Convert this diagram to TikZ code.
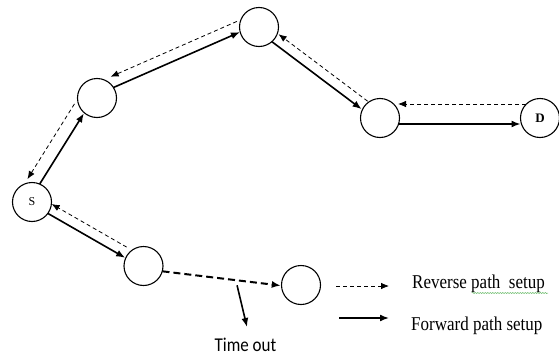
\documentclass[tikz,border=0pt]{standalone}
\usepackage{fontspec}
\setmainfont{Liberation Serif}
\newfontfamily\labelsans{Carlito}
\usetikzlibrary{calc,arrows.meta,decorations.pathmorphing}
% style, from, to, sideways offset, shorten at start, shorten at end
\newcommand\hoplink[6]{%
  \draw[#1,shorten <=#5,shorten >=#6] ($(#2)!#4!90:(#3)$) -- ($(#3)!#4!-90:(#2)$);}
% text set slightly taller than wide
\newcommand\tall[1]{\scalebox{1}[1.15]{#1}}
\begin{document}
\begin{tikzpicture}[x=1pt,y=-1pt,
  station/.style={circle,draw,line width=1.1pt,minimum size=39pt,inner sep=0pt},
  fwd/.style={line width=1.6pt,-{Latex[length=9pt,width=7pt]}},
  rev/.style={line width=0.8pt,dash pattern=on 4pt off 3pt,-{Latex[length=8pt,width=6.5pt]}},
  pending/.style={line width=2pt,dash pattern=on 7pt off 4pt,-{Latex[length=9pt,width=7pt]}},
  legendtext/.style={anchor=base west,inner sep=0pt,font=\fontsize{17}{20}\selectfont},
]
\useasboundingbox (0,0) rectangle (559,356);

% stations
\node[station,font=\fontsize{12}{13}\selectfont] (s) at (32,202) {S};
\node[station] (a) at (97,98) {};
\node[station] (b) at (259,27) {};
\node[station] (c) at (380,118) {};
\node[station,font=\fontsize{13}{14}\selectfont\bfseries] (d) at (540,118) {D};
\node[station] (e) at (143.5,266) {};
\node[station] (f) at (301,285) {};

% forward path (solid) and reverse path (dashed) along each hop
\hoplink{fwd}{s}{a}{3pt}{19.5pt}{20pt}
\hoplink{rev}{a}{s}{-16pt}{17pt}{17pt}
\hoplink{fwd}{a}{b}{3pt}{19pt}{19.5pt}
\hoplink{rev}{b}{a}{-14pt}{18pt}{21pt}
\hoplink{fwd}{b}{c}{-4pt}{19pt}{20pt}
\hoplink{rev}{c}{b}{-6pt}{20pt}{20pt}
\hoplink{fwd}{c}{d}{-6pt}{18.5pt}{19.5pt}
\hoplink{rev}{d}{c}{-14pt}{14pt}{18pt}
\hoplink{fwd}{s}{e}{-2pt}{19.5pt}{20pt}
\hoplink{rev}{e}{s}{-8pt}{24pt}{18pt}

% unfinished hop and its time-out
\hoplink{pending}{e}{f}{-3pt}{19.5pt}{20pt}
\coordinate (tstart) at ($(e)!0.594!(f)+(0,8)$);
\coordinate (tend) at (247,327);
\draw[fwd] (tstart) -- (tend);
\node[font=\labelsans\fontsize{17}{20}\selectfont,anchor=base,inner sep=0pt] (timeout) at (245.5,351) {\tall{Time out}};

% legend
\coordinate (rv1) at (336,286);
\coordinate (rv2) at (389,286);
\draw[rev] (rv1) -- (rv2);
\coordinate (fw1) at (339,318);
\coordinate (fw2) at (389,318);
\draw[fwd] (fw1) -- (fw2);
\node[legendtext] (revtxt) at (412,288) {\tall{Reverse path\ \ setup}};
\node[legendtext] (fwdtxt) at (411,330) {\tall{Forward path setup}};
\draw[green!55!black!60,line width=0.5pt,decorate,decoration={snake,amplitude=0.6pt,segment length=2.5pt}]
  (472,293) -- (548,293);
\end{tikzpicture}
\end{document}
